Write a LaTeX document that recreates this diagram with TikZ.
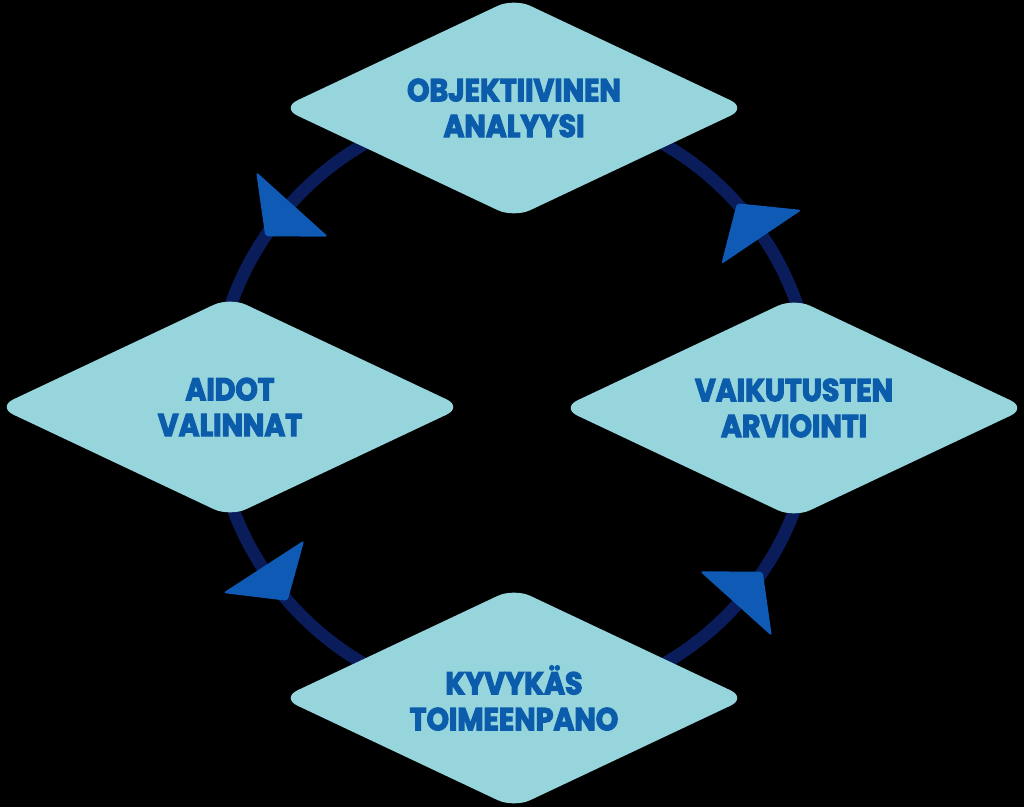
\documentclass[tikz,border=0pt]{standalone}
\usepackage{fontspec}
\setsansfont{Poppins}[FakeStretch=0.9, BoldFeatures={FakeBold=3.5}]
\usepackage{tikz}
\usetikzlibrary{shapes.geometric}
\definecolor{RingNavy}{RGB}{10,28,90}
\definecolor{StageCyan}{RGB}{150,213,220}
\definecolor{StageBlue}{RGB}{12,92,172}
\definecolor{TipBlue}{RGB}{14,90,180}
\tikzset{
  stage/.style={diamond, aspect=2.2, minimum width=9.32cm, minimum height=4.4cm,
    inner sep=0pt, rounded corners=0.36cm, fill=StageCyan, text=StageBlue,
    align=center, font=\sffamily\bfseries\fontsize{18}{20.4}\selectfont},
  ring/.style={draw=RingNavy, line width=0.25cm},
  flowtip/.style={fill=TipBlue, rounded corners=0.06cm},
}

\begin{document}
\begin{tikzpicture}[x=0.02cm, y=0.02cm]
  \useasboundingbox (-514,-403) rectangle (510,404);
  \fill[black] (-514,-403) rectangle (510,404);
  \draw[ring] (0,0) circle[radius=6cm];
  % arrow tips on the ring, running anticlockwise
  \foreach \a in {34,138,213,318}
    \fill[flowtip] (\a:250) -- (\a:347) -- (\a+8:300) -- cycle;

  \node[stage] (anal) at (0,296) {OBJEKTIIVINEN\\ANALYYSI};
  \node[stage] (valin) at (-284,-3) {AIDOT\\VALINNAT};
  \node[stage] (toim) at (0,-294) {KYVYKÄS\\TOIMEENPANO};
  \node[stage] (arvio) at (280,-4) {VAIKUTUSTEN\\ARVIOINTI};
\end{tikzpicture}
\end{document}
